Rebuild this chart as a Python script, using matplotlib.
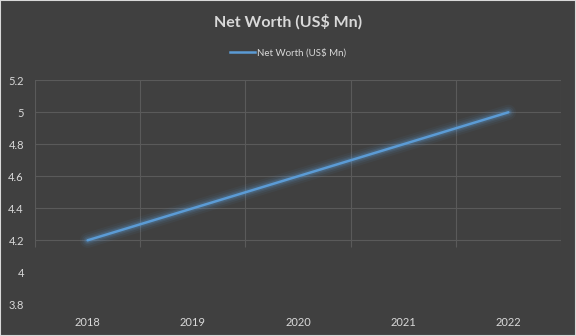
import matplotlib

matplotlib.use("Agg")
import matplotlib.pyplot as plt
from matplotlib.patches import Rectangle
from matplotlib.lines import Line2D

BG = "#404040"
GRID = "#5a5a5a"
TEXT = "#d9d9d9"
LINE = "#5b9bd5"

YEARS = ["2018", "2019", "2020", "2021", "2022"]
NET_WORTH = [4.2, 4.4, 4.6, 4.8, 5.0]
Y_TICKS = [3.8, 4.0, 4.2, 4.4, 4.6, 4.8, 5.0, 5.2]
Y_LABELS = ["3.8", "4", "4.2", "4.4", "4.6", "4.8", "5", "5.2"]
GRID_LEVELS = [4.2, 4.4, 4.6, 4.8, 5.0, 5.2]

plt.rcParams["font.family"] = ["Lato", "DejaVu Sans"]

fig = plt.figure(figsize=(5.76, 3.36), dpi=100)
fig.patch.set_facecolor(BG)
ax = fig.add_axes([35 / 576, 1 - 304.3 / 336, 526 / 576, 224 / 336])
ax.set_facecolor(BG)
for s in ax.spines.values():
    s.set_visible(False)

x = list(range(len(YEARS)))
ax.set_xlim(-0.5, len(YEARS) - 0.5)
ax.set_ylim(3.8, 5.2)

# partial gridlines, like the source render
for lv in GRID_LEVELS:
    ax.axhline(lv, color=GRID, linewidth=0.8, zorder=1)
bounds = [i - 0.5 for i in range(len(YEARS) + 1)]
ax.vlines(bounds, 4.155, 5.2, color=GRID, linewidth=0.8, zorder=1)

# soft glow under the line
for lw, a in [(11, 0.06), (8, 0.09), (5.5, 0.13), (3.8, 0.18)]:
    ax.plot(x, NET_WORTH, color=LINE, linewidth=lw, alpha=a,
            solid_capstyle="round", zorder=2)
ax.plot(x, NET_WORTH, color=LINE, linewidth=1.8, solid_capstyle="round", zorder=3)

ax.set_xticks(x)
ax.set_xticklabels(YEARS)
ax.set_yticks(Y_TICKS)
ax.set_yticklabels(Y_LABELS)
ax.tick_params(length=0, labelsize=8, colors=TEXT)
ax.tick_params(axis="y", pad=8)
ax.tick_params(axis="x", pad=9)

fig.text(0.5, 1 - 22 / 336, "Net Worth (US$ Mn)", ha="center", va="center",
         fontsize=11.5, fontweight="bold", color=TEXT)
handle = Line2D([], [], color=LINE, linewidth=1.8)
fig.legend(handles=[handle], labels=["Net Worth (US$ Mn)"], loc="center",
           bbox_to_anchor=(0.5, 1 - 53 / 336), frameon=False, fontsize=7,
           labelcolor=TEXT, handlelength=2.6, handletextpad=0.2)

fig.patches.append(Rectangle((0, 0), 1, 1, transform=fig.transFigure,
                             fill=False, edgecolor="#d9d9d9", linewidth=1.5))

fig.savefig("out.png", dpi=100, facecolor=BG)
